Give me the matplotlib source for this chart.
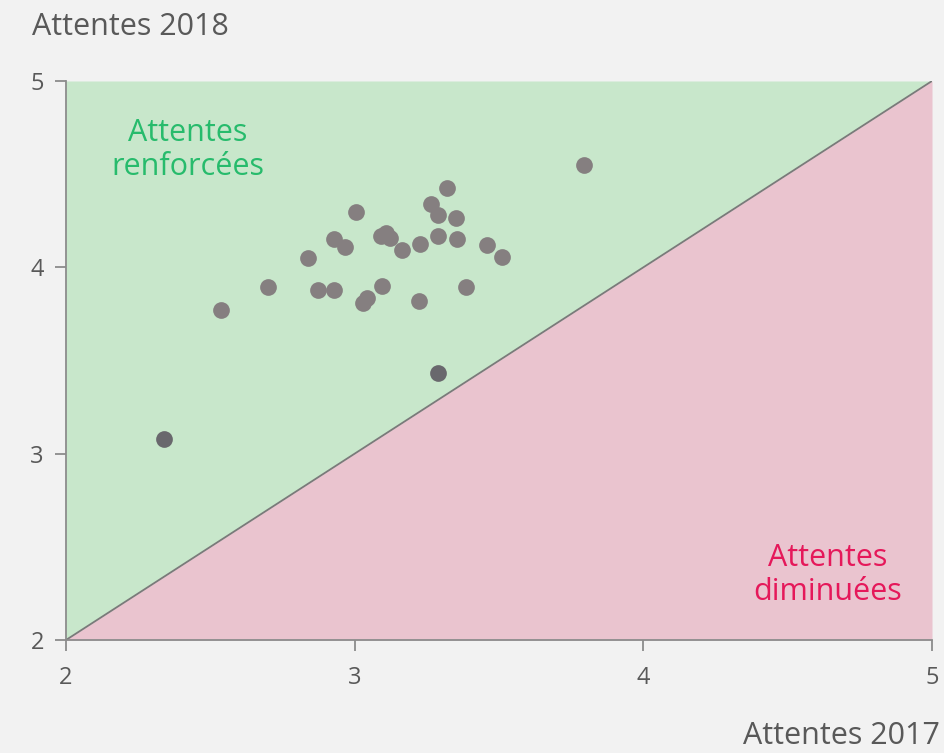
import matplotlib
matplotlib.use("Agg")
import matplotlib.pyplot as plt
import numpy as np

plt.rcParams['font.family'] = ['Open Sans', 'DejaVu Sans']

x2017 = [2.538, 2.70, 2.84, 2.874, 2.93, 2.93, 2.968, 3.006, 3.03, 3.044, 3.093,
         3.09, 3.107, 3.124, 3.165, 3.224, 3.228, 3.263, 3.287, 3.287, 3.32,
         3.35, 3.353, 3.384, 3.46, 3.51, 3.793]
y2018 = [3.77, 3.894, 4.05, 3.878, 3.878, 4.152, 4.109, 4.297, 3.81, 3.835, 3.90,
         4.168, 4.184, 4.157, 4.093, 3.819, 4.125, 4.34, 4.168, 4.28, 4.426,
         4.265, 4.152, 3.894, 4.12, 4.055, 4.55]
x_dark = [2.34, 3.287]
y_dark = [3.08, 3.433]
ticks = [2, 3, 4, 5]

bg = '#f2f2f2'
fig = plt.figure(figsize=(9.45, 7.53), dpi=100, facecolor=bg)
ax = fig.add_axes([66/945, 1-640/753, (932-66)/945, (640-81)/753])
ax.set_facecolor(bg)
ax.set_xlim(2, 5)
ax.set_ylim(2, 5)

xs = np.array([2, 5])
ax.fill_between(xs, xs, 5, color='#c8e7cb', lw=0, zorder=0)
ax.fill_between(xs, 2, xs, color='#eac4cf', lw=0, zorder=0)
ax.plot(xs, xs, color='#7a7a7a', lw=1.3, zorder=1)

ax.scatter(x2017, y2018, s=145, color='#857f80', lw=0, zorder=3)
ax.scatter(x_dark, y_dark, s=145, color='#69686d', lw=0, zorder=3)

ax.set_xticks(ticks)
ax.set_yticks(ticks)
ax.set_xticklabels([str(t) for t in ticks])
ax.set_yticklabels([str(t) for t in ticks])
for s in ['top', 'right']:
    ax.spines[s].set_visible(False)
for s in ['left', 'bottom']:
    ax.spines[s].set_color('#8c8c8c')
    ax.spines[s].set_linewidth(1.3)
ax.tick_params(colors='#8c8c8c', labelcolor='#595959', labelsize=17, length=8, width=1.3)
ax.tick_params(axis='y', pad=8)
ax.tick_params(axis='x', pad=11)

ax.text(188, 753-150, 'Attentes\nrenforcées', transform=None, ha='center', va='center',
        color='#27bb6c', fontsize=22, linespacing=1.2)
ax.text(828, 753-575, 'Attentes\ndiminuées', transform=None, ha='center', va='center',
        color='#e5185a', fontsize=22, linespacing=1.2)
fig.text(32/945, 1-27/753, 'Attentes 2018', ha='left', va='center', color='#595959', fontsize=22)
fig.text(940/945, 1-736/753, 'Attentes 2017', ha='right', va='center', color='#595959', fontsize=22)

fig.savefig('out.png', dpi=100, facecolor=bg)
